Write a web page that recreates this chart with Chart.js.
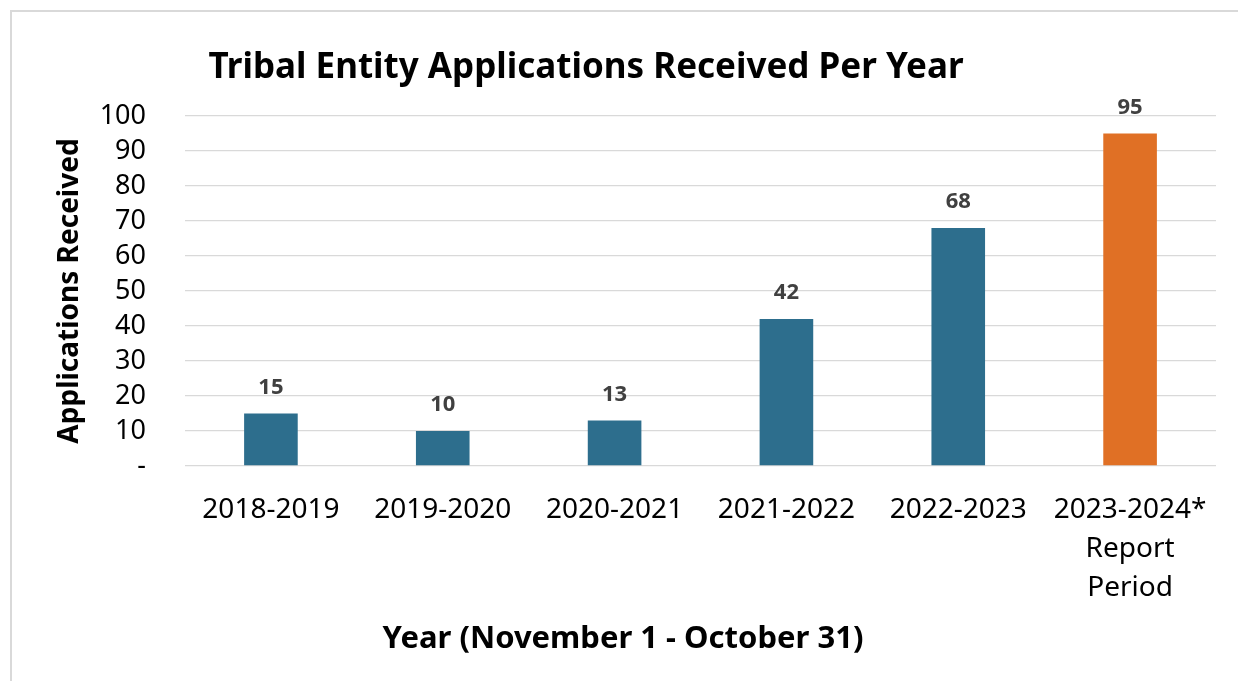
<!DOCTYPE html>
<html>
<head>
<meta charset="utf-8">
<script src="https://cdn.jsdelivr.net/npm/chart.js@4.4.0/dist/chart.umd.min.js"></script>
<style>
  html, body { margin: 0; padding: 0; background: #fff; overflow: hidden; }
  #frame { position: absolute; left: 10px; top: 10px; width: 1400px; height: 900px; border: 2px solid #d9d9d9; }
  #wrap { position: absolute; left: 0; top: 0; width: 1238px; height: 681px; }
</style>
</head>
<body>
<div id="frame"></div>
<div id="wrap"><canvas id="chart"></canvas></div>
<script>
// données
const TITLE = 'Tribal Entity Applications Received Per Year';
const X_TITLE = 'Year (November 1 - October 31)';
const Y_TITLE = 'Applications Received';
const categories = ['2018-2019', '2019-2020', '2020-2021', '2021-2022', '2022-2023', ['2023-2024*', 'Report', 'Period']];
const applications = [15, 10, 13, 42, 68, 95];
const barColors = ['#2d6e8d', '#2d6e8d', '#2d6e8d', '#2d6e8d', '#2d6e8d', '#e07025'];

const FONT = '"Noto Sans", "Open Sans", sans-serif';

// titres placés comme dans Excel (décalés à gauche, pas centrés sur la zone de tracé)
const titlePlugin = {
  id: 'excelTitles',
  afterDraw(chart) {
    const ctx = chart.ctx;
    ctx.save();
    ctx.fillStyle = '#000';
    ctx.textAlign = 'center';
    ctx.textBaseline = 'middle';
    ctx.font = `bold 35px ${FONT}`;
    ctx.fillText(TITLE, 586, 68);
    ctx.font = `bold 31px ${FONT}`;
    ctx.fillText(X_TITLE, 623, 639);
    ctx.restore();
  }
};

// étiquettes de valeur au-dessus des barres
const valueLabels = {
  id: 'valueLabels',
  afterDatasetsDraw(chart) {
    const ctx = chart.ctx;
    const meta = chart.getDatasetMeta(0);
    ctx.save();
    ctx.font = `bold 22px ${FONT}`;
    ctx.fillStyle = '#404040';
    ctx.textAlign = 'center';
    ctx.textBaseline = 'middle';
    meta.data.forEach((bar, i) => ctx.fillText(applications[i], bar.x, bar.y - 26));
    ctx.restore();
  }
};

new Chart(document.getElementById('chart'), {
  type: 'bar',
  data: {
    labels: categories,
    datasets: [{
      data: applications,
      backgroundColor: barColors,
      borderWidth: 0,
      categoryPercentage: 1,
      barPercentage: 0.312,
    }]
  },
  options: {
    animation: false,
    responsive: true,
    maintainAspectRatio: false,
    layout: { padding: { top: 116, right: 22, left: 0, bottom: 0 } },
    plugins: {
      legend: { display: false },
      tooltip: { enabled: false },
      title: { display: false }
    },
    scales: {
      x: {
        grid: { display: false, drawTicks: false },
        border: { display: false },
        ticks: {
          color: '#000', padding: 25, maxRotation: 0, autoSkip: false,
          font: { family: FONT, size: 28, lineHeight: 1.38 }
        },
        afterFit: s => { s.height = 215; }
      },
      y: {
        min: 0, max: 100,
        ticks: {
          stepSize: 10, padding: 39, color: '#000', autoSkip: false,
          font: { family: FONT, size: 27 },
          callback: v => v === 0 ? '-' : v
        },
        grid: { color: '#d9d9d9', lineWidth: 1.3, drawTicks: false },
        border: { display: false },
        title: {
          display: true, text: Y_TITLE, color: '#000',
          font: { family: FONT, size: 28, weight: 'bold' },
          padding: { top: 53, bottom: 0 }
        },
        afterFit: s => { s.width = 185; }
      }
    }
  },
  plugins: [titlePlugin, valueLabels]
});
</script>
</body>
</html>
